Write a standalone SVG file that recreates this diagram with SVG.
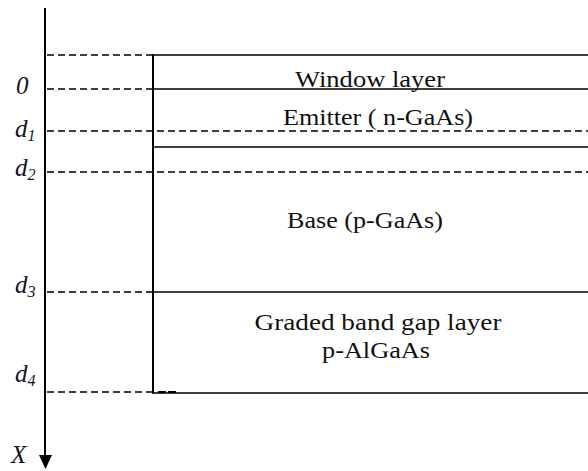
<svg xmlns="http://www.w3.org/2000/svg" width="588" height="471" viewBox="0 0 588 471">
  <style>
    .solid { stroke: #000; stroke-width: 1.4; fill: none; }
    .dash { stroke: #000; stroke-width: 1.3; fill: none; stroke-dasharray: 7 4; }
    .axis { stroke: #000; stroke-width: 2; fill: none; }
    .lbl { font-family: 'Liberation Serif', 'Times New Roman', 'DejaVu Serif', serif; font-size: 23px; fill: #111; text-anchor: middle; }
    .pos { font-family: 'Liberation Serif', 'Times New Roman', 'DejaVu Serif', serif; font-style: italic; font-size: 25px; fill: #141428; }
    .sub { font-size: 16px; }
  </style>
  <rect width="588" height="471" fill="#fff"/>

  <!-- depth axis -->
  <g id="axis">
    <line class="axis" x1="45" y1="8" x2="45" y2="458"/>
    <polygon points="39,455 52,455 45.5,469" fill="#000"/>
    <text class="pos" x="11" y="463">X</text>
    <text class="pos" x="16" y="94">0</text>
    <text class="pos" x="15" y="137">d<tspan class="sub" dy="4">1</tspan></text>
    <text class="pos" x="15" y="176">d<tspan class="sub" dy="4">2</tspan></text>
    <text class="pos" x="15" y="293">d<tspan class="sub" dy="4">3</tspan></text>
    <text class="pos" x="15" y="382">d<tspan class="sub" dy="4">4</tspan></text>
  </g>

  <!-- depth reference lines -->
  <g id="connectors">
    <line class="dash" x1="47" y1="55" x2="153" y2="55"/>
    <line class="dash" x1="47" y1="89" x2="153" y2="89"/>
    <line class="dash" x1="47" y1="131" x2="588" y2="131"/>
    <line class="dash" x1="47" y1="172" x2="588" y2="172"/>
    <line class="dash" x1="47" y1="292" x2="153" y2="292"/>
    <line class="dash" x1="47" y1="392" x2="153" y2="392"/>
    <line stroke="#000" stroke-width="2.2" stroke-dasharray="8 2" x1="158" y1="392" x2="178" y2="392"/>
  </g>

  <!-- layer stack -->
  <g id="window-layer">
    <line class="solid" x1="153" y1="55" x2="588" y2="55"/>
    <text class="lbl" x="370" y="87" textLength="150" lengthAdjust="spacingAndGlyphs">Window layer</text>
  </g>
  <g id="emitter">
    <line class="solid" x1="153" y1="89" x2="588" y2="89"/>
    <text class="lbl" x="378" y="125" textLength="190" lengthAdjust="spacingAndGlyphs">Emitter ( n-GaAs)</text>
  </g>
  <g id="base">
    <line class="solid" x1="153" y1="147" x2="588" y2="147"/>
    <text class="lbl" x="365" y="228" textLength="156" lengthAdjust="spacingAndGlyphs">Base (p-GaAs)</text>
  </g>
  <g id="graded-layer">
    <line class="solid" x1="153" y1="292" x2="588" y2="292"/>
    <text class="lbl" x="378" y="330" textLength="247" lengthAdjust="spacingAndGlyphs">Graded band gap layer</text>
    <text class="lbl" x="376" y="358" textLength="108" lengthAdjust="spacingAndGlyphs">p-AlGaAs</text>
    <line class="solid" x1="153" y1="393" x2="588" y2="393"/>
  </g>
  <g id="stack-edge">
    <line class="axis" x1="153" y1="54.3" x2="153" y2="393.7"/>
  </g>
</svg>
